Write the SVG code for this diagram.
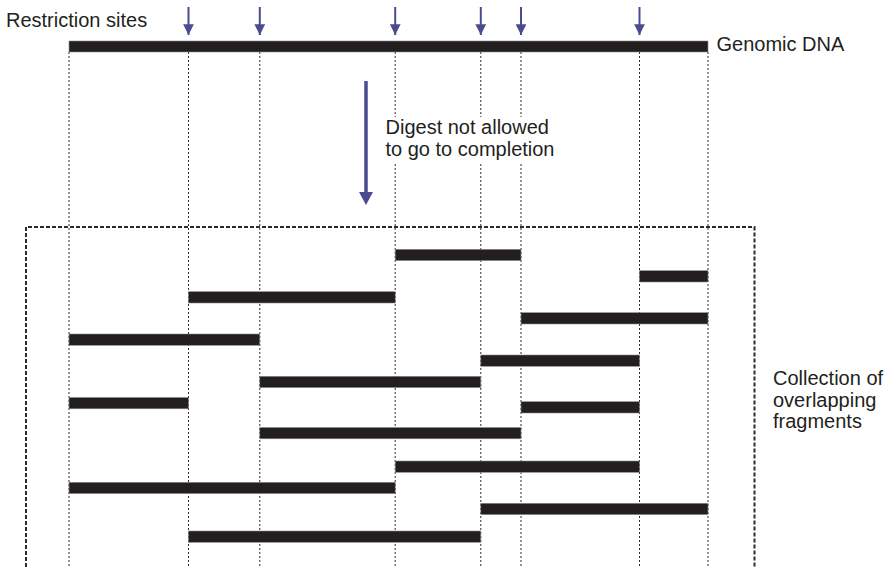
<svg xmlns="http://www.w3.org/2000/svg" width="893" height="567" viewBox="0 0 893 567">
  <style>
    .lbl { font-family: "Liberation Sans", Arial, Helvetica, sans-serif; font-size: 20px; fill: #231f20; }
    .frag { fill: #231f20; stroke: #8a8a8a; stroke-width: 0.6; }
    .guide { stroke: #2b2b2b; stroke-width: 1; stroke-dasharray: 2 2; fill: none; }
    .site { stroke: #4b4b92; stroke-width: 2; fill: none; }
    .box { stroke: #2b2b2b; stroke-width: 2; stroke-dasharray: 4 2; fill: none; }
  </style>
  <defs>
    <marker id="siteHead" viewBox="0 0 10 10" refX="10" refY="5" markerWidth="5.4" markerHeight="5.4" markerUnits="strokeWidth" orient="auto">
      <path d="M0,0 L10,5 L0,10 Z" fill="#4b4b92"/>
    </marker>
  </defs>

  <rect width="893" height="567" fill="#ffffff"/>

  <!-- vertical guides through every cut site -->
  <g id="connectors">
    <g id="guides">
      <line class="guide" x1="69" y1="52" x2="69" y2="567"/>
      <line class="guide" x1="188.5" y1="52" x2="188.5" y2="567"/>
      <line class="guide" x1="259.8" y1="52" x2="259.8" y2="567"/>
      <line class="guide" x1="395.2" y1="52" x2="395.2" y2="567"/>
      <line class="guide" x1="480.8" y1="52" x2="480.8" y2="567"/>
      <line class="guide" x1="521" y1="52" x2="521" y2="567"/>
      <line class="guide" x1="639.5" y1="52" x2="639.5" y2="567"/>
      <line class="guide" x1="708" y1="52" x2="708" y2="567"/>
    </g>

    <!-- restriction site arrows -->
    <g id="site-arrows">
      <line class="site" x1="188.5" y1="7" x2="188.5" y2="35" marker-end="url(#siteHead)"/>
      <line class="site" x1="259.8" y1="7" x2="259.8" y2="35" marker-end="url(#siteHead)"/>
      <line class="site" x1="395.2" y1="7" x2="395.2" y2="35" marker-end="url(#siteHead)"/>
      <line class="site" x1="480.8" y1="7" x2="480.8" y2="35" marker-end="url(#siteHead)"/>
      <line class="site" x1="521" y1="7" x2="521" y2="35" marker-end="url(#siteHead)"/>
      <line class="site" x1="639.5" y1="7" x2="639.5" y2="35" marker-end="url(#siteHead)"/>
    </g>

    <!-- partial digest step -->
    <g id="digest-arrow">
      <line x1="366" y1="81" x2="366" y2="193" stroke="#4b4b92" stroke-width="3.5"/>
      <path d="M359,192 L373,192 L366,205 Z" fill="#4b4b92"/>
    </g>
  </g>

  <!-- genomic DNA -->
  <g id="genomic-dna">
    <rect class="frag" x="69" y="41" width="639" height="11"/>
    <text class="lbl" x="716.5" y="50.5">Genomic DNA</text>
  </g>

  <g id="restriction-label">
    <text class="lbl" x="6" y="26.5">Restriction sites</text>
  </g>

  <g id="digest-label">
    <rect x="383" y="117" width="178" height="46" fill="#ffffff"/>
    <text class="lbl" x="385.5" y="133.5">Digest not allowed</text>
    <text class="lbl" x="385.5" y="155.5">to go to completion</text>
  </g>

  <!-- collection of partial-digest fragments -->
  <g id="fragment-collection">
    <path class="box" d="M26,567 L26,227 L754.5,227 L754.5,567"/>
    <rect class="frag" x="395.2" y="249.3" width="125.8" height="11.3"/>
    <rect class="frag" x="639.5" y="270.7" width="68.5" height="11.3"/>
    <rect class="frag" x="188.5" y="291.7" width="206.7" height="11.3"/>
    <rect class="frag" x="521" y="312.7" width="187" height="11.3"/>
    <rect class="frag" x="69" y="334" width="190.8" height="11.3"/>
    <rect class="frag" x="480.8" y="355" width="158.7" height="11.3"/>
    <rect class="frag" x="259.8" y="376.3" width="221" height="11.3"/>
    <rect class="frag" x="69" y="397.5" width="119.5" height="11.3"/>
    <rect class="frag" x="521" y="401.7" width="118.5" height="11.3"/>
    <rect class="frag" x="259.8" y="427.5" width="261.2" height="11.3"/>
    <rect class="frag" x="395.2" y="461" width="244.3" height="11.3"/>
    <rect class="frag" x="69" y="482.3" width="326.2" height="11.3"/>
    <rect class="frag" x="480.8" y="503.3" width="227.2" height="11.3"/>
    <rect class="frag" x="188.5" y="531" width="292.3" height="11.3"/>
  </g>

  <g id="collection-label">
    <text class="lbl" x="773" y="385">Collection of</text>
    <text class="lbl" x="773" y="406.5">overlapping</text>
    <text class="lbl" x="773" y="428">fragments</text>
  </g>
</svg>
